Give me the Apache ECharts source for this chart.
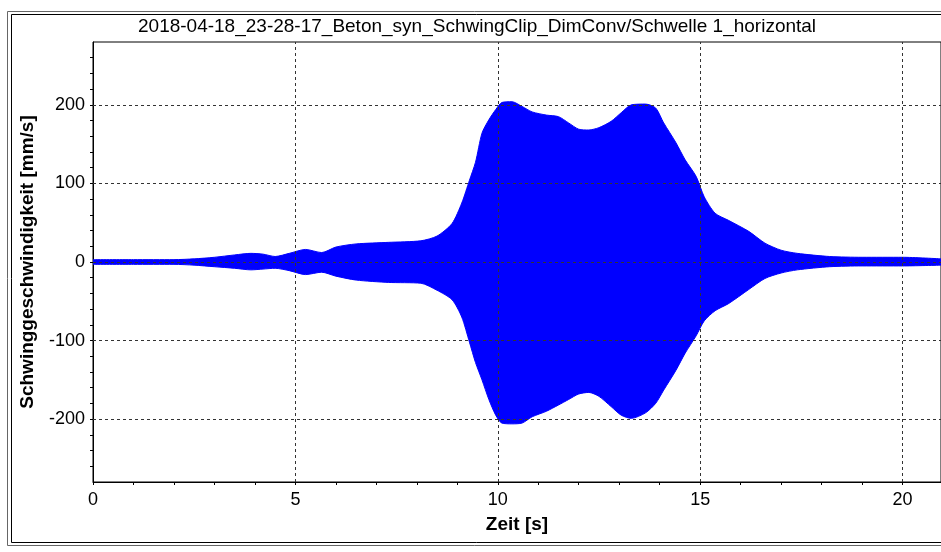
<!DOCTYPE html>
<html>
<head>
<meta charset="utf-8">
<script src="https://cdn.jsdelivr.net/npm/echarts@6/dist/echarts.min.js"></script>
<style>
  html, body { margin: 0; padding: 0; background: #fff; }
  #chart { width: 941px; height: 552px; }
</style>
</head>
<body>
<div id="chart"></div>
<script>
// Einhüllende des Schwingsignals
var zeit = [0, 1, 2, 2.5, 3, 3.5, 3.9, 4.2, 4.5, 4.85, 5.25, 5.65, 6.0, 6.5, 7.3, 8.1, 8.5, 8.87, 9.11, 9.3,
  9.45, 9.61, 9.78, 9.95, 10.1, 10.35, 10.6, 10.85, 11.2, 11.5, 11.75, 12.0, 12.25, 12.5, 12.8, 13.05,
  13.3, 13.65, 13.9, 14.1, 14.4, 14.63, 14.9, 15.1, 15.37, 15.7, 16.2, 16.6, 17.0, 17.4, 18.2, 19.0, 20.0, 20.95];
var oben = [3, 3, 3, 4, 6, 9, 11, 10, 7, 11, 16, 12, 19, 23, 25, 27, 33, 49, 75, 104,
  127, 164, 181, 194, 203, 204, 198, 191, 187, 185, 177, 169, 168, 171, 179, 190,
  200, 201, 196, 177, 152, 130, 109, 83, 62, 53, 39, 24, 15, 11, 7, 6, 6, 4];
var unten = [-3, -3, -3, -4, -6, -8, -10, -9, -8, -11, -16, -13, -18, -23, -26, -27, -36, -48, -70, -102,
  -128, -150, -175, -195, -205, -206, -205, -197, -190, -182, -175, -168, -166, -171, -184, -195,
  -199, -192, -180, -163, -138, -116, -94, -75, -62, -53, -35, -21, -14, -10, -6, -5, -5, -4];

var xGitter = [5, 10, 15, 20];
var yGitter = [-200, -100, 0, 100, 200];

var titel = '2018-04-18_23-28-17_Beton_syn_SchwingClip_DimConv/Schwelle 1_horizontal';
var font = "'Liberation Sans', Arial, sans-serif";

function paare(ys) {
  return zeit.map(function (t, i) { return [t, ys[i]]; });
}

var chart = echarts.init(document.getElementById('chart'));
chart.setOption({
  animation: false,
  backgroundColor: '#fff',
  textStyle: { fontFamily: font },
  title: {
    text: titel,
    left: 138,
    top: 17,
    padding: 0,
    textStyle: { fontSize: 19, fontWeight: 'normal', color: '#000', fontFamily: font }
  },
  graphic: [
    { type: 'rect', shape: { x: 7.5, y: 11.5, width: 960, height: 534 }, style: { fill: 'none', stroke: '#666', lineWidth: 1 } },
    { type: 'rect', shape: { x: 11.5, y: 14.5, width: 960, height: 528 }, style: { fill: 'none', stroke: '#000', lineWidth: 1 } }
  ],
  grid: {
    left: 93,
    top: 42,
    right: -2,
    bottom: 70,
    show: true,
    borderColor: '#000',
    borderWidth: 1
  },
  xAxis: {
    type: 'value',
    min: 0,
    max: 20.95,
    interval: 1,
    name: 'Zeit [s]',
    nameLocation: 'middle',
    nameGap: 33,
    nameTextStyle: { fontSize: 19, fontWeight: 'bold', color: '#000', fontFamily: font },
    axisLine: { onZero: false, lineStyle: { color: '#000', width: 1 } },
    axisTick: { length: 3, lineStyle: { color: '#000' } },
    axisLabel: {
      color: '#000',
      fontSize: 18,
      margin: 9,
      showMaxLabel: false,
      formatter: function (v) { return v % 5 === 0 ? String(v) : ''; }
    },
    splitLine: { show: false }
  },
  yAxis: {
    type: 'value',
    min: -280,
    max: 280,
    interval: 20,
    name: 'Schwinggeschwindigkeit [mm/s]',
    nameLocation: 'middle',
    nameGap: 56,
    nameTextStyle: { fontSize: 19, fontWeight: 'bold', color: '#000', fontFamily: font },
    axisLine: { onZero: false, lineStyle: { color: '#000', width: 1 } },
    axisTick: { length: 3, lineStyle: { color: '#000' } },
    axisLabel: {
      color: '#000',
      fontSize: 18,
      margin: 8,
      showMinLabel: false,
      showMaxLabel: false,
      formatter: function (v) { return v % 100 === 0 ? String(v) : ''; }
    },
    splitLine: { show: false }
  },
  series: [
    // Gitterlinien
    {
      type: 'line',
      data: [],
      z: 1,
      silent: true,
      markLine: {
        silent: true,
        symbol: 'none',
        label: { show: false },
        lineStyle: { type: [3, 3], color: '#333', width: 1 },
        data: xGitter.map(function (v) { return { xAxis: v }; })
          .concat(yGitter.map(function (v) { return { yAxis: v }; }))
      }
    },
    {
      name: 'oben',
      type: 'line',
      z: 3,
      symbol: 'none',
      smooth: 0.25,
      data: paare(oben),
      lineStyle: { color: '#0000ff', width: 1 },
      areaStyle: { color: '#0000ff', opacity: 1 }
    },
    {
      name: 'unten',
      type: 'line',
      z: 3,
      symbol: 'none',
      smooth: 0.25,
      data: paare(unten),
      lineStyle: { color: '#0000ff', width: 1 },
      areaStyle: { color: '#0000ff', opacity: 1 }
    }
  ]
});
</script>
</body>
</html>
